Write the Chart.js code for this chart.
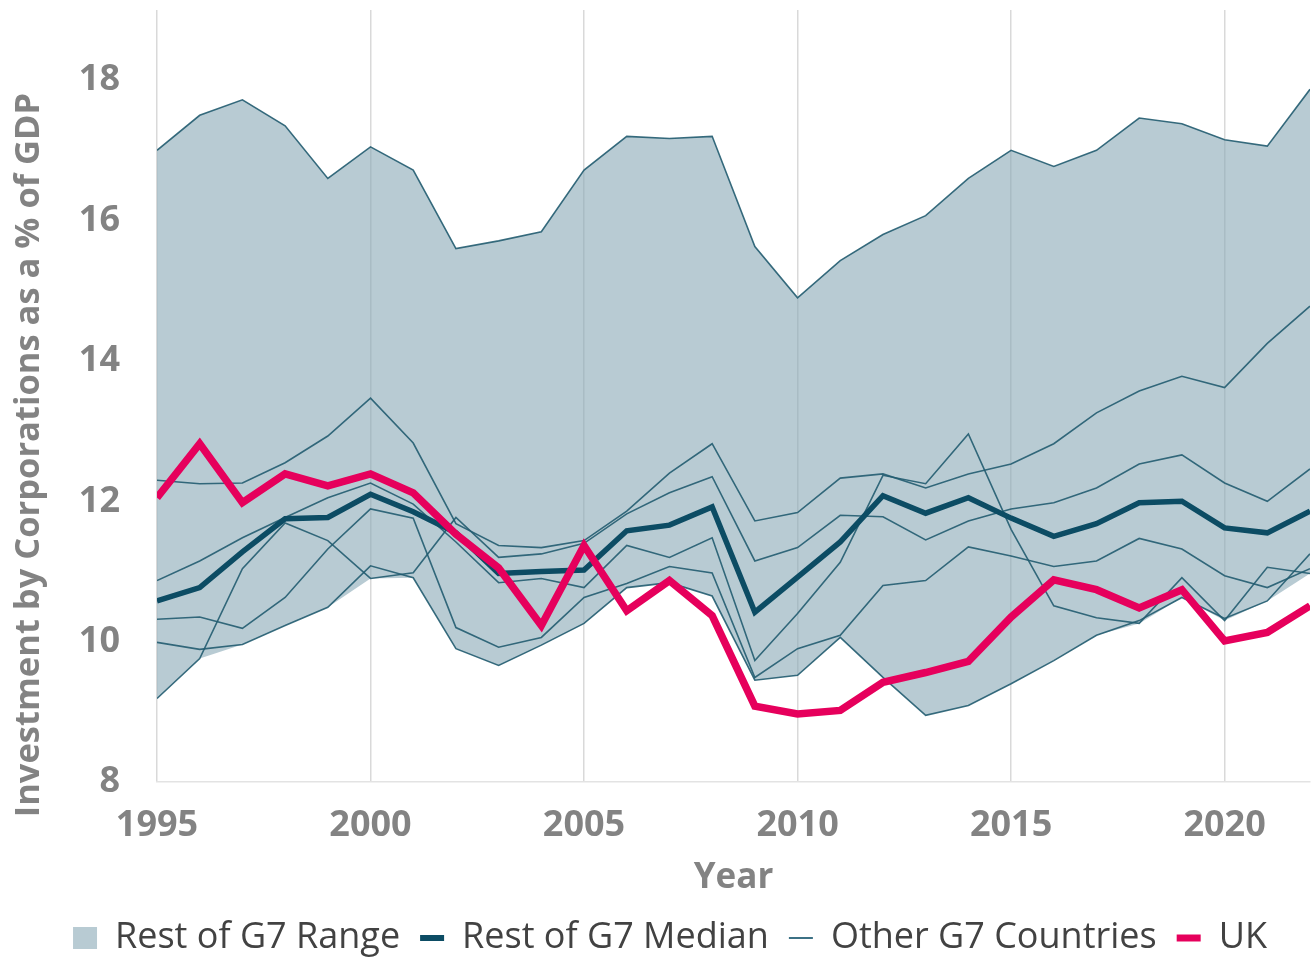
<!DOCTYPE html>
<html>
<head>
<meta charset="utf-8">
<script src="https://cdn.jsdelivr.net/npm/chart.js@4.4.1/dist/chart.umd.min.js"></script>
<style>
  html, body { margin: 0; padding: 0; background: #ffffff; }
  #wrap { width: 1316px; height: 959px; position: relative; }
</style>
</head>
<body>
<div id="wrap"><canvas id="c"></canvas></div>
<script>
const years = [1995,1996,1997,1998,1999,2000,2001,2002,2003,2004,2005,2006,2007,2008,2009,2010,2011,2012,2013,2014,2015,2016,2017,2018,2019,2020,2021,2022];

const uk = [12.05,12.82,11.98,12.39,12.22,12.39,12.12,11.53,11.05,10.23,11.37,10.44,10.87,10.37,9.08,8.97,9.02,9.42,9.56,9.72,10.35,10.88,10.74,10.48,10.74,10.01,10.13,10.51];

const median = [10.58,10.77,11.28,11.75,11.77,12.10,11.85,11.55,10.97,11.00,11.02,11.58,11.66,11.92,10.42,10.92,11.42,12.08,11.83,12.05,11.76,11.50,11.68,11.98,12.00,11.62,11.55,11.86];

const rangeLow = [9.19,9.76,9.96,10.23,10.49,10.90,10.91,9.90,9.66,9.95,10.26,10.77,10.84,10.65,9.45,9.52,10.06,9.49,8.95,9.09,9.40,9.73,10.09,10.26,10.63,10.30,10.58,10.97];
const rangeHigh = [17.00,17.50,17.72,17.35,16.60,17.05,16.72,15.60,15.71,15.84,16.72,17.20,17.17,17.20,15.63,14.90,15.43,15.80,16.07,16.60,17.00,16.77,17.00,17.46,17.38,17.15,17.06,17.87];

const country1 = [17.00,17.50,17.72,17.35,16.60,17.05,16.72,15.60,15.71,15.84,16.72,17.20,17.17,17.20,15.63,14.90,15.43,15.80,16.07,16.60,17.00,16.77,17.00,17.46,17.38,17.15,17.06,17.87];
const country2 = [12.30,12.25,12.26,12.55,12.93,13.47,12.83,11.68,11.37,11.34,11.44,11.86,12.40,12.82,11.72,11.84,12.33,12.39,12.19,12.39,12.53,12.82,13.26,13.57,13.78,13.62,14.25,14.78];
const country3 = [9.19,9.76,11.04,11.69,11.44,10.90,10.98,11.77,11.20,11.25,11.40,11.82,12.12,12.35,11.15,11.34,11.80,11.78,11.45,11.72,11.89,11.98,12.19,12.53,12.66,12.26,12.00,12.46];
const country4 = [10.87,11.15,11.48,11.77,12.05,12.26,11.96,11.42,10.84,10.90,10.77,11.37,11.20,11.48,9.73,10.40,11.13,12.37,12.25,12.96,11.60,10.51,10.34,10.26,10.91,10.30,11.06,10.97];
const country5 = [10.32,10.35,10.19,10.63,11.32,11.89,11.76,10.20,9.92,10.06,10.63,10.83,11.07,10.98,9.49,9.90,10.09,10.80,10.87,11.35,11.22,11.07,11.15,11.47,11.32,10.94,10.77,11.04];
const country6 = [9.99,9.89,9.96,10.23,10.49,11.08,10.91,9.90,9.66,9.95,10.26,10.77,10.84,10.65,9.45,9.52,10.06,9.49,8.95,9.09,9.40,9.73,10.09,10.30,10.63,10.33,10.58,11.25];

const xTicks = [1995,2000,2005,2010,2015,2020];
const yTicks = [8,10,12,14,16,18];
const Y_TITLE = 'Investment by Corporations as a % of GDP';

const C_RANGE_LEG = '#b8cbd3';
const C_RANGE = 'rgba(137,168,182,0.6)';
const C_MED = '#0c4c64';
const C_THIN = 'rgba(34,92,112,0.9)';
const C_UK = '#e6005c';
const C_TICK = '#838383';
const FONT = "'Open Sans', sans-serif";

const pts = arr => years.map((y, i) => ({x: y, y: arr[i]}));

const countries = [country1, country2, country3, country4, country5, country6];

const datasets = [];
datasets.push({label:'UK', data: pts(uk), borderColor: C_UK, borderWidth: 7.5, pointRadius: 0, fill: false, order: 0, borderJoinStyle: 'miter', borderCapStyle: 'butt'});
datasets.push({label:'Rest of G7 Median', data: pts(median), borderColor: C_MED, borderWidth: 5.5, pointRadius: 0, fill: false, order: 1});
countries.forEach((c, i) => {
  datasets.push({label:'Other G7 Countries', data: pts(c), borderColor: C_THIN, borderWidth: 1.6, pointRadius: 0, fill: false, order: 2});
});
datasets.push({label:'rangeLow', data: pts(rangeLow), borderWidth: 0, borderColor: 'rgba(0,0,0,0)', pointRadius: 0, fill: false, order: 3});
datasets.push({label:'Rest of G7 Range', data: pts(rangeHigh), borderWidth: 0, borderColor: 'rgba(0,0,0,0)', backgroundColor: C_RANGE, pointRadius: 0, fill: '-1', order: 4});

const tickFont = {family: FONT, size: 36, weight: 'bold'};

const yTitlePlugin = {
  id: 'yTitle',
  afterDraw(chart) {
    const ctx = chart.ctx;
    ctx.save();
    ctx.font = "bold 34.5px 'Open Sans', sans-serif";
    ctx.fillStyle = C_TICK;
    ctx.textAlign = 'center';
    ctx.textBaseline = 'middle';
    ctx.translate(29, 455);
    ctx.rotate(-Math.PI / 2);
    ctx.fillText(Y_TITLE, 0, 0);
    ctx.restore();
  }
};

new Chart(document.getElementById('c'), {
  type: 'line',
  data: { datasets },
  plugins: [yTitlePlugin],
  options: {
    responsive: true,
    maintainAspectRatio: false,
    animation: false,
    layout: { padding: {left: 30, right: 6, top: 10, bottom: 0} },
    elements: { line: { tension: 0 } },
    scales: {
      x: {
        type: 'linear',
        min: 1995, max: 2022,
        afterBuildTicks: s => { s.ticks = xTicks.map(v => ({value: v})); },
        afterFit: s => { s.height = 118; s.paddingLeft = 0; s.paddingRight = 0; },
        ticks: { font: tickFont, color: C_TICK, padding: 22, maxRotation: 0, callback: v => String(v) },
        grid: { color: '#d9d9d9', lineWidth: 1.5, drawTicks: false },
        border: { display: true, color: '#e3e3e3', width: 1.5 },
        title: { display: true, text: 'Year', font: {family: FONT, size: 35, weight: 'bold'}, color: C_TICK, padding: {top: 0, bottom: 1} }
      },
      y: {
        min: 8, max: 19,
        afterBuildTicks: s => { s.ticks = yTicks.map(v => ({value: v})); },
        afterFit: s => { s.width = 127; s.paddingTop = 0; s.paddingBottom = 0; },
        ticks: { font: tickFont, color: C_TICK, padding: 37, callback: v => String(v) },
        grid: { display: false, drawTicks: false },
        border: { display: false },
        title: { display: false }
      }
    },
    plugins: {
      tooltip: { enabled: false },
      legend: {
        position: 'bottom',
        maxHeight: 59,
        labels: {
          usePointStyle: true,
          pointStyleWidth: 24,
          boxHeight: 22,
          padding: 20,
          color: '#424242',
          font: {family: FONT, size: 36},
          generateLabels: () => [
            {text: 'Rest of G7 Range', fillStyle: C_RANGE_LEG, strokeStyle: C_RANGE_LEG, lineWidth: 0, pointStyle: 'rect', hidden: false, fontColor: '#424242'},
            {text: 'Rest of G7 Median', fillStyle: C_MED, strokeStyle: C_MED, lineWidth: 6, pointStyle: 'line', hidden: false, fontColor: '#424242'},
            {text: 'Other G7 Countries', fillStyle: '#3c7185', strokeStyle: '#3c7185', lineWidth: 2, pointStyle: 'line', hidden: false, fontColor: '#424242'},
            {text: 'UK', fillStyle: C_UK, strokeStyle: C_UK, lineWidth: 7, pointStyle: 'line', hidden: false, fontColor: '#424242'}
          ]
        }
      }
    }
  }
});
</script>
</body>
</html>
